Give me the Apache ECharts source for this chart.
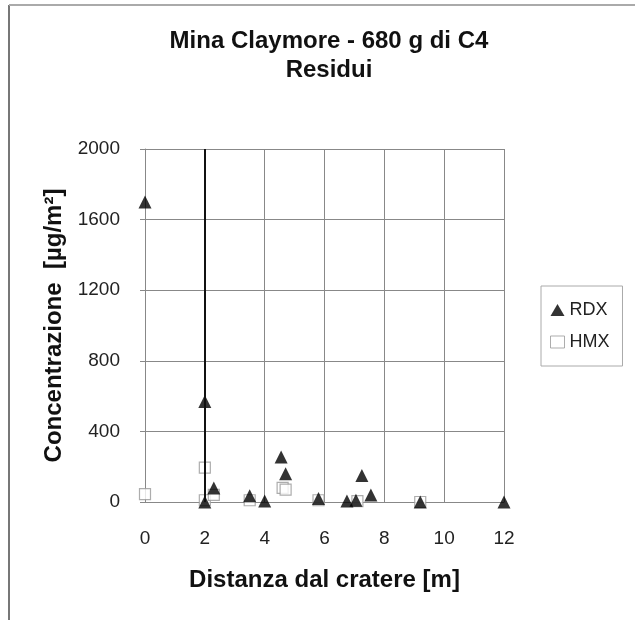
<!DOCTYPE html>
<html>
<head>
<meta charset="utf-8">
<script src="https://cdn.jsdelivr.net/npm/echarts@6/dist/echarts.min.js"></script>
<style>
  html, body { margin: 0; padding: 0; background: #fff; }
  #chart { width: 635px; height: 620px; }
</style>
</head>
<body>
<div id="chart"></div>
<script>
// data
const rdxX = [0, 2, 2, 2.3, 3.5, 4, 4.55, 4.7, 5.8, 6.75, 7.05, 7.25, 7.55, 9.2, 12]
const rdxY = [1700, 570, 0, 80, 35, 5, 255, 160, 20, 5, 10, 150, 40, 0, 0]
const hmxX = [0, 2, 2, 2.3, 3.5, 4.6, 4.7, 5.8, 7.1, 9.2]
const hmxY = [45, 195, 10, 40, 10, 80, 70, 10, 5, 0]
const xTicks = [0, 2, 4, 6, 8, 10, 12]
const yTicks = [0, 400, 800, 1200, 1600, 2000]

const font = 'Liberation Sans, Arial, sans-serif'
const chart = echarts.init(document.getElementById('chart'))

const option = {
  backgroundColor: '#fff',
  animation: false,
  title: {
    text: 'Mina Claymore - 680 g di C4\nResidui',
    left: 324,
    top: 22,
    textAlign: 'center',
    textStyle: { fontFamily: font, fontSize: 24, fontWeight: 'bold', color: '#111', lineHeight: 29 }
  },
  legend: {
    orient: 'vertical',
    left: 541,
    top: 286,
    padding: [15, 13, 15, 9],
    itemGap: 14,
    itemWidth: 14,
    itemHeight: 12,
    borderColor: '#aaa',
    borderWidth: 1,
    textStyle: { fontFamily: font, fontSize: 18, color: '#222' },
    data: [
      { name: 'RDX', icon: 'triangle' },
      { name: 'HMX', icon: 'rect', itemStyle: { color: '#fff', borderColor: '#999', borderWidth: 1 } }
    ]
  },
  grid: { left: 145, right: 131, top: 149, bottom: 118 },
  xAxis: {
    type: 'value',
    min: 0,
    max: 12,
    interval: 2,
    name: 'Distanza dal cratere [m]',
    nameLocation: 'middle',
    nameGap: 66,
    nameTextStyle: { fontFamily: font, fontSize: 24, fontWeight: 'bold', color: '#111' },
    axisLine: { lineStyle: { color: '#888' } },
    axisTick: { show: false },
    axisLabel: {
      margin: 27,
      fontFamily: font, fontSize: 19, color: '#222',
      formatter: v => xTicks.includes(v) ? String(v) : ''
    },
    splitLine: { show: true, lineStyle: { color: '#888', width: 1 } }
  },
  yAxis: {
    type: 'value',
    min: 0,
    max: 2000,
    interval: 400,
    name: 'Concentrazione  [µg/m²]',
    nameLocation: 'middle',
    nameGap: 77,
    nameTextStyle: { fontFamily: font, fontSize: 24, fontWeight: 'bold', color: '#111' },
    axisLine: { show: true, lineStyle: { color: '#888' } },
    axisTick: { show: true, length: 5, lineStyle: { color: '#888' } },
    axisLabel: {
      margin: 25,
      fontFamily: font, fontSize: 19, color: '#222',
      formatter: v => yTicks.includes(v) ? String(v) : ''
    },
    splitLine: { show: true, lineStyle: { color: '#888', width: 1 } }
  },
  series: [
    {
      name: 'HMX',
      type: 'scatter',
      symbol: 'rect',
      symbolSize: 11,
      itemStyle: { color: '#fff', borderColor: '#999', borderWidth: 1.2 },
      data: hmxX.map((x, i) => [x, hmxY[i]]),
      z: 2
    },
    {
      name: 'RDX',
      type: 'scatter',
      symbol: 'triangle',
      symbolSize: 13,
      itemStyle: { color: '#000' },
      data: rdxX.map((x, i) => [x, rdxY[i]]),
      markLine: {
        silent: true,
        symbol: 'none',
        label: { show: false },
        lineStyle: { color: '#111', width: 2, type: 'solid' },
        data: [{ xAxis: 2 }]
      },
      z: 3
    }
  ],
  graphic: [
    { type: 'line', shape: { x1: 9, y1: 5, x2: 9, y2: 620 }, style: { stroke: '#777', lineWidth: 2 } },
    { type: 'line', shape: { x1: 9, y1: 5, x2: 635, y2: 5 }, style: { stroke: '#aaa', lineWidth: 2 } }
  ]
}

chart.setOption(option)
</script>
</body>
</html>
